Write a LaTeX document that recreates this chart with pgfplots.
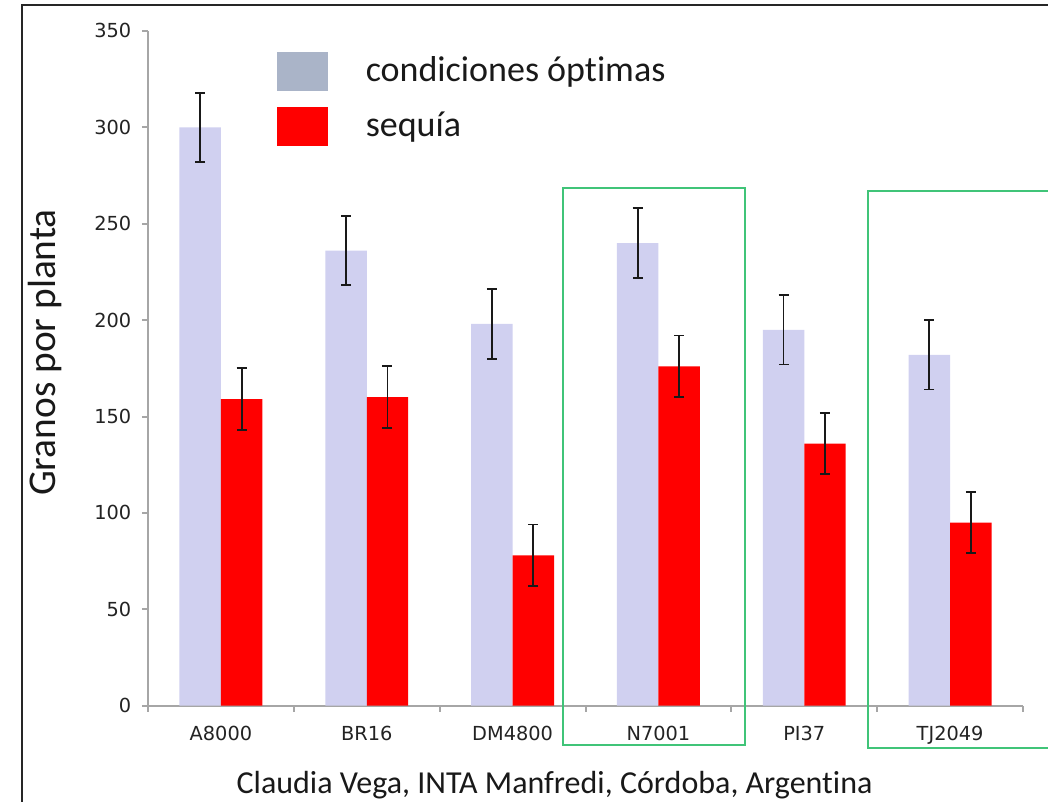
\documentclass[border=0pt]{standalone}
\usepackage{fontspec}
\setmainfont{Carlito}[Ligatures=NoCommon]
\newfontfamily\tickfont{DejaVu Sans}
\usepackage{pgfplots}
\pgfplotsset{compat=1.18}
\definecolor{lav}{RGB}{208,208,240}
\definecolor{legblue}{RGB}{170,180,200}
\definecolor{myred}{RGB}{255,0,0}
\definecolor{boxgreen}{RGB}{64,196,120}
\definecolor{axgray}{RGB}{166,166,166}
\definecolor{ticktext}{RGB}{35,35,35}
\definecolor{txt}{RGB}{25,25,25}
\begin{document}
\begin{tikzpicture}
\begin{axis}[
 scale only axis, width=656.25pt, height=506.1pt,
 xmin=-0.5, xmax=5.5, ymin=0, ymax=350,
 axis lines*=left,
 axis line style={axgray, line width=1.5pt},
 ybar=0pt, bar width=31.1pt,
 ytick={0,50,...,350},
 xtick={-0.5,0.5,...,5.5}, xticklabels={},
 extra x ticks={0,1,2,3,4,5},
 extra x tick labels={A8000,BR16,DM4800,N7001,PI37,TJ2049},
 extra x tick style={major tick length=0pt},
 tick align=outside, major tick length=4.5pt,
 tick style={axgray, line width=1.5pt},
 ticklabel style={font=\tickfont\fontsize{14.5}{16}\selectfont, text=ticktext},
 xticklabel style={yshift=-12pt},
 yticklabel style={xshift=-4.5pt},
 /pgf/number format/assume math mode=true,
 xlabel={Claudia Vega, INTA Manfredi, Córdoba, Argentina},
 xlabel style={at={(axis description cs:0.4646,-0.1175)}, anchor=center, font=\fontsize{24}{26}\selectfont, text=txt},
 ylabel={Granos por planta},
 ylabel style={at={(axis description cs:-0.1177,0.5234)}, anchor=center, font=\fontsize{29.5}{32}\selectfont, text=txt},
 legend style={at={(rel axis cs:0.1474,0.9838)}, anchor=north west, draw=none, fill=none,
   font=\fontsize{27}{30}\selectfont, text=txt, inner sep=0pt, row sep=4.5pt,
   nodes={inner sep=0pt}},
 legend cell align=left,
 clip=false,
]
\addplot[fill=lav, draw=none, forget plot, bar shift=-15.55pt,
  error bars/.cd, y dir=both, y explicit,
  error bar style={black!90, line width=1.4pt},
  error mark options={black!90, line width=1.4pt, mark size=3.75pt, rotate=90}]
 coordinates {(0,300) +- (0,18) (1,236) +- (0,18) (2,198) +- (0,18) (3,240) +- (0,18) (4,195) +- (0,18) (5,182) +- (0,18)};
\addplot[fill=myred, draw=none, forget plot, bar shift=15.55pt,
  error bars/.cd, y dir=both, y explicit,
  error bar style={black!90, line width=1.4pt},
  error mark options={black!90, line width=1.4pt, mark size=3.75pt, rotate=90}]
 coordinates {(0,159) +- (0,16) (1,160) +- (0,16) (2,78) +- (0,16) (3,176) +- (0,16) (4,136) +- (0,16) (5,95) +- (0,16)};
\addlegendimage{legend image code/.code={\fill[legblue] (0pt,-15pt) rectangle (37.5pt,13.5pt); \path (0pt,21pt) (66pt,0pt);}}
\addlegendentry{condiciones óptimas}
\addlegendimage{legend image code/.code={\fill[myred] (0pt,-15pt) rectangle (37.5pt,13.5pt); \path (0pt,21pt) (66pt,0pt);}}
\addlegendentry{sequía}
\draw[boxgreen, line width=1.5pt] (axis cs:2.346,-20.3) rectangle (axis cs:3.595,268.5);
\draw[boxgreen, line width=1.5pt] (axis cs:4.438,-21.9) rectangle (axis cs:5.9,267);
\end{axis}
\draw[line width=1.5pt, black!85] (-94.5pt,-80pt) -- (-94.5pt,525.5pt) -- (690pt,525.5pt);
\pgfresetboundingbox
\useasboundingbox (-111pt,-72.2pt) rectangle (675pt,529.3pt);
\end{tikzpicture}
\end{document}
